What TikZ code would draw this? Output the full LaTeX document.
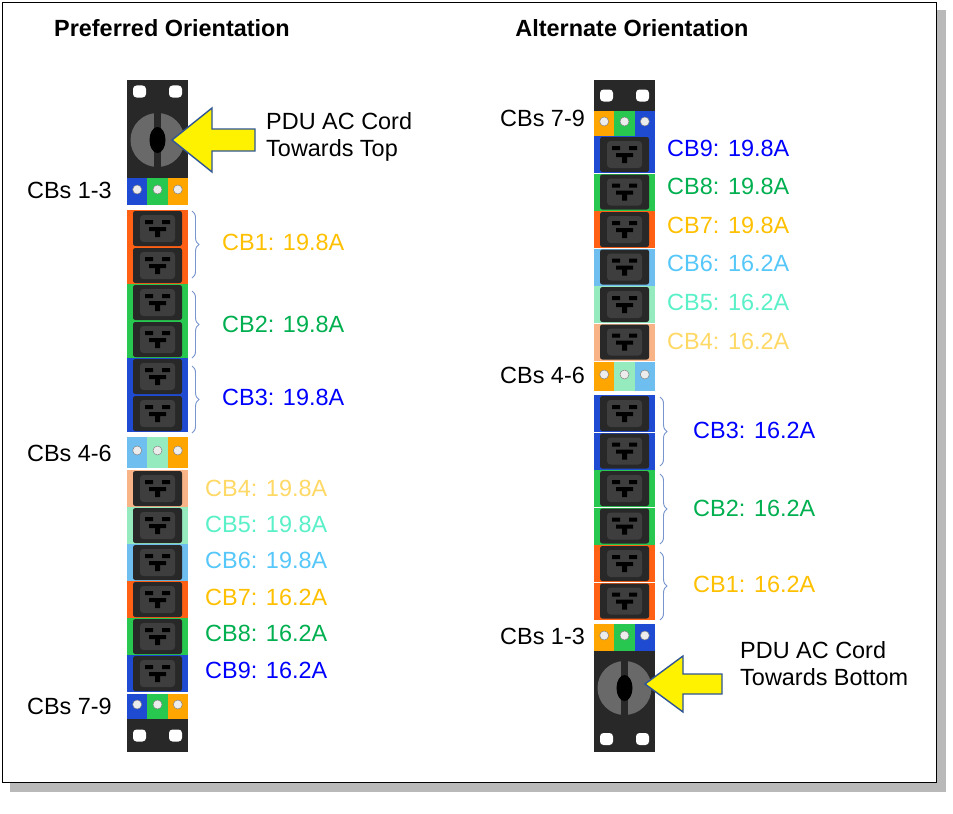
\documentclass[tikz,border=0pt]{standalone}
\usepackage{fontspec}
\setmainfont{Liberation Sans}
\usetikzlibrary{decorations.pathreplacing,shadows}
\definecolor{pdubody}{RGB}{40, 40, 40}
\definecolor{socket}{RGB}{62, 62, 62}
\definecolor{cordgray}{RGB}{105, 105, 105}
\definecolor{cbo}{RGB}{255, 96, 20}
\definecolor{cbg}{RGB}{40, 200, 80}
\definecolor{cbb}{RGB}{30, 75, 210}
\definecolor{cbp}{RGB}{248, 180, 135}
\definecolor{cbm}{RGB}{150, 235, 190}
\definecolor{cbl}{RGB}{110, 190, 240}
\definecolor{cby}{RGB}{255, 165, 0}
\definecolor{txto}{RGB}{255, 192, 0}
\definecolor{txtg}{RGB}{0, 176, 80}
\definecolor{txtb}{RGB}{0, 0, 255}
\definecolor{txtp}{RGB}{255, 217, 102}
\definecolor{txtm}{RGB}{90, 240, 200}
\definecolor{txtl}{RGB}{86, 199, 249}
\definecolor{bracecol}{RGB}{120, 150, 205}
\definecolor{arrowedge}{RGB}{47, 85, 151}

\tikzset{
    label/.style={font=\fontsize{20}{23}\selectfont, inner sep=0pt},
    title/.style={font=\fontsize{20}{23}\selectfont\bfseries, inner sep=0pt},
    cb brace/.style={draw=bracecol, thick, decorate,
        decoration={brace, amplitude=6pt}},
    cord arrow/.style={fill=yellow, draw=arrowedge, line width=1.2pt},
}

% outlet: left x, top y, strip colour
\newcommand{\outlet}[3]{%
    \fill[#3] (#1,#2) rectangle ++(61,37);
    \fill[pdubody, rounded corners=2] (#1+6,#2+1) rectangle ++(49,35);
    \fill[socket, rounded corners=3] (#1+13,#2+5) rectangle ++(35,27);
    \fill[black] (#1+18,#2+10) rectangle ++(8,4)
        (#1+35,#2+10) rectangle ++(8,4)
        (#1+22,#2+17) rectangle ++(17,4)
        (#1+28,#2+17) rectangle ++(5,10);
}
% breaker block: left x, top y, height, three colours
\newcommand{\cbblock}[6]{%
    \fill[#4] (#1,#2) rectangle ++(20.33,#3);
    \fill[#5] (#1+20.33,#2) rectangle ++(20.33,#3);
    \fill[#6] (#1+40.67,#2) rectangle ++(20.33,#3);
    \foreach \k in {0,1,2}{
        \filldraw[fill=white!85!gray, draw=gray] (#1+10.17+20.33*\k,#2+#3/2-2) circle (4.5);
    }
}
% mounting ear: left x, top y, height
\newcommand{\ear}[3]{%
    \fill[pdubody] (#1,#2) rectangle ++(61,#3);
    \fill[white, rounded corners=3] (#1+6,#2+#3/2-6) rectangle ++(13,12)
        (#1+42,#2+#3/2-6) rectangle ++(13,12);
}
% cord exit: left x, top y
\newcommand{\cord}[2]{%
    \fill[pdubody] (#1,#2) rectangle ++(61,75);
    \fill[cordgray] (#1+30.5,#2+37) circle (27);
    \fill[pdubody] (#1+27,#2+2) rectangle ++(7,71);
    \fill[black] (#1+30.5,#2+37) ellipse (8 and 13);
}

\begin{document}
\begin{tikzpicture}[x=0.03cm, y=-0.03cm]
    \useasboundingbox (0,0) rectangle (953,814);
    \fill[gray!55] (10,10) rectangle (946,792);
    \filldraw[fill=white, draw=black, thick] (2,2) rectangle (936,782);

    % preferred orientation
    \node[title] (tl) at (172,28) {Preferred Orientation};
    \ear{127}{80}{23}
    \cord{127}{103}
    \cbblock{127}{178}{27}{cbb}{cbg}{cby}
    \foreach \c [count=\i from 0] in {cbo,cbo,cbg,cbg,cbb,cbb}{
        \outlet{127}{210+37*\i}{\c}
    }
    \cbblock{127}{437}{31}{cbl}{cbm}{cby}
    \foreach \c [count=\i from 0] in {cbp,cbm,cbl,cbo,cbg,cbb}{
        \outlet{127}{470+37*\i}{\c}
    }
    \cbblock{127}{694}{25}{cbb}{cbg}{cby}
    \ear{127}{719}{33}

    \filldraw[cord arrow] (172,140) -- (212,108) -- (212,129) -- (255,129)
        -- (255,151) -- (212,151) -- (212,172) -- cycle;
    \node[label, anchor=west, align=left] (cordtop) at (266,137)
        {PDU AC Cord\\Towards Top};

    \node[label, anchor=east] (l13) at (112,190) {CBs 1-3};
    \node[label, anchor=east] (l46) at (112,453) {CBs 4-6};
    \node[label, anchor=east] (l79) at (112,706) {CBs 7-9};

    \draw[cb brace] (192,211) -- (192,278);
    \draw[cb brace] (192,291) -- (192,358);
    \draw[cb brace] (192,366) -- (192,433);
    \node[label, anchor=west, text=txto] (cb1l) at (222,242) {CB1: 19.8A};
    \node[label, anchor=west, text=txtg] (cb2l) at (222,324) {CB2: 19.8A};
    \node[label, anchor=west, text=txtb] (cb3l) at (222,397) {CB3: 19.8A};
    \foreach \t/\c [count=\i from 0] in {CB4: 19.8A/txtp, CB5: 19.8A/txtm,
            CB6: 19.8A/txtl, CB7: 16.2A/txto, CB8: 16.2A/txtg, CB9: 16.2A/txtb}{
        \node[label, anchor=west, text=\c] (lo\i) at (205,488+36.4*\i) {\t};
    }

    % alternate orientation
    \node[title] (tr) at (632,28) {Alternate Orientation};
    \ear{594}{80}{31}
    \cbblock{594}{111}{25}{cby}{cbg}{cbb}
    \foreach \c [count=\i from 0] in {cbb,cbg,cbo,cbl,cbm,cbp}{
        \outlet{594}{136+37.5*\i}{\c}
    }
    \cbblock{594}{362}{29}{cby}{cbm}{cbl}
    \foreach \c [count=\i from 0] in {cbb,cbb,cbg,cbg,cbo,cbo}{
        \outlet{594}{395+37.5*\i}{\c}
    }
    \cbblock{594}{624}{27}{cby}{cbg}{cbb}
    \cord{594}{651}
    \ear{594}{726}{26}

    \filldraw[cord arrow] (645,684) -- (683,656) -- (683,674) -- (722,674)
        -- (722,694) -- (683,694) -- (683,712) -- cycle;
    \node[label, anchor=west, align=left] (cordbot) at (740,664)
        {PDU AC Cord\\Towards Bottom};

    \node[label, anchor=west] (r79) at (500,118) {CBs 7-9};
    \node[label, anchor=west] (r46) at (500,375) {CBs 4-6};
    \node[label, anchor=west] (r13) at (500,636) {CBs 1-3};

    \foreach \t/\c [count=\i from 0] in {CB9: 19.8A/txtb, CB8: 19.8A/txtg,
            CB7: 19.8A/txto, CB6: 16.2A/txtl, CB5: 16.2A/txtm, CB4: 16.2A/txtp}{
        \node[label, anchor=west, text=\c] (ro\i) at (667,148+38.6*\i) {\t};
    }
    \draw[cb brace] (660,397) -- (660,466);
    \draw[cb brace] (660,474) -- (660,544);
    \draw[cb brace] (660,552) -- (660,620);
    \node[label, anchor=west, text=txtb] (cb3r) at (693,430) {CB3: 16.2A};
    \node[label, anchor=west, text=txtg] (cb2r) at (693,508) {CB2: 16.2A};
    \node[label, anchor=west, text=txto] (cb1r) at (693,584) {CB1: 16.2A};
\end{tikzpicture}
\end{document}
